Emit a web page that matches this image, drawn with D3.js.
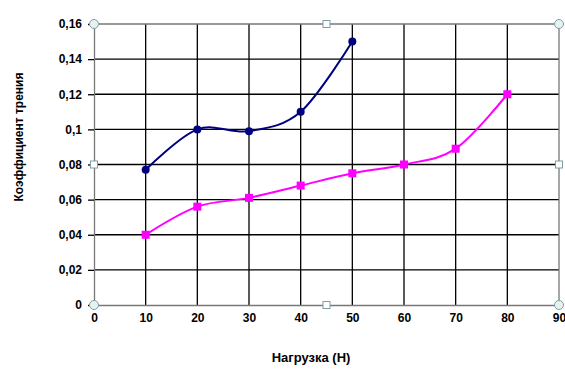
<!DOCTYPE html>
<html>
<head>
<meta charset="utf-8">
<script src="https://cdn.jsdelivr.net/npm/d3@7"></script>
<style>
  body { margin: 0; background: #fff; }
  text { font-family: "Liberation Sans", Arial, sans-serif; font-weight: bold; font-size: 12px; fill: #000; }
</style>
</head>
<body>
<script>
var xTicks = [0, 10, 20, 30, 40, 50, 60, 70, 80, 90];
var yTicks = [0, 0.02, 0.04, 0.06, 0.08, 0.1, 0.12, 0.14, 0.16];

var loadA = [10, 20, 30, 40, 50];
var frictionA = [0.077, 0.1, 0.099, 0.11, 0.15];

var loadB = [10, 20, 30, 40, 50, 60, 70, 80];
var frictionB = [0.04, 0.056, 0.061, 0.068, 0.075, 0.08, 0.089, 0.12];

var margin = {top: 24, right: 6, bottom: 84, left: 94},
    width = 565 - margin.left - margin.right,
    height = 389 - margin.top - margin.bottom;

var svg = d3.select("body").append("svg")
    .attr("width", 565)
    .attr("height", 389);

var g = svg.append("g")
    .attr("transform", "translate(" + margin.left + "," + margin.top + ")");

var x = d3.scaleLinear().domain([0, 90]).range([0, width]);
var y = d3.scaleLinear().domain([0, 0.16]).range([height, 0]);

var fmt = function(d) { return String(+d.toFixed(2)).replace(".", ","); };

// gridlines
g.append("g").selectAll("line").data(xTicks.slice(1, -1)).enter().append("line")
    .attr("x1", function(d) { return x(d); }).attr("x2", function(d) { return x(d); })
    .attr("y1", 0).attr("y2", height)
    .attr("stroke", "#000").attr("stroke-width", 1.3);
g.append("g").selectAll("line").data(yTicks.slice(1, -1)).enter().append("line")
    .attr("x1", 0).attr("x2", width)
    .attr("y1", function(d) { return y(d); }).attr("y2", function(d) { return y(d); })
    .attr("stroke", "#000").attr("stroke-width", 1.3);

// border (top/right)
g.append("path")
    .attr("d", "M0,0H" + width + "V" + height)
    .attr("fill", "none").attr("stroke", "#777").attr("stroke-width", 1.3);

// axes
var xAxis = g.append("g")
    .attr("transform", "translate(0," + height + ")")
    .call(d3.axisBottom(x).tickValues(xTicks).tickSize(0).tickPadding(8).tickFormat(d3.format("d")));
var yAxis = g.append("g")
    .call(d3.axisLeft(y).tickValues(yTicks).tickSize(6).tickPadding(6).tickFormat(fmt));
[xAxis, yAxis].forEach(function(a) {
  a.select(".domain").attr("stroke", "#777").attr("stroke-width", 1.3);
  a.selectAll(".tick line").attr("stroke", "#000").attr("stroke-width", 1.3);
  a.selectAll("text").style("font-size", "12px").attr("fill", "#000");
});

var line = d3.line()
    .x(function(d) { return x(d[0]); })
    .y(function(d) { return y(d[1]); })
    .curve(d3.curveCardinal);

var dataA = d3.zip(loadA, frictionA);
var dataB = d3.zip(loadB, frictionB);

g.append("path").datum(dataA).attr("d", line)
    .attr("fill", "none").attr("stroke", "#000080").attr("stroke-width", 2);
g.append("path").datum(dataB).attr("d", line)
    .attr("fill", "none").attr("stroke", "#ff00ff").attr("stroke-width", 2);

g.append("g").selectAll("circle").data(dataA).enter().append("circle")
    .attr("cx", function(d) { return x(d[0]); })
    .attr("cy", function(d) { return y(d[1]); })
    .attr("r", 4).attr("fill", "#000080");
g.append("g").selectAll("rect").data(dataB).enter().append("rect")
    .attr("x", function(d) { return x(d[0]) - 4; })
    .attr("y", function(d) { return y(d[1]) - 4; })
    .attr("width", 8).attr("height", 8).attr("fill", "#ff00ff");

// selection handles
var corners = [[0, 0], [width, 0], [0, height], [width, height]];
g.append("g").selectAll("circle").data(corners).enter().append("circle")
    .attr("cx", function(d) { return d[0]; }).attr("cy", function(d) { return d[1]; })
    .attr("r", 4.5).attr("fill", "#e6f2f2").attr("stroke", "#7f9ea6").attr("stroke-width", 1);
var mids = [[width / 2, 0], [width / 2, height], [0, height / 2], [width, height / 2]];
g.append("g").selectAll("rect").data(mids).enter().append("rect")
    .attr("x", function(d) { return d[0] - 3.5; }).attr("y", function(d) { return d[1] - 3.5; })
    .attr("width", 7).attr("height", 7)
    .attr("fill", "#fff").attr("stroke", "#7f9ea6").attr("stroke-width", 1);

// axis titles
svg.append("text")
    .attr("x", 311).attr("y", 362)
    .attr("text-anchor", "middle")
    .style("font-size", "13px")
    .text("Нагрузка (Н)");
svg.append("text")
    .attr("transform", "translate(23,137) rotate(-90)")
    .attr("text-anchor", "middle")
    .text("Коэффициент трения");
</script>
</body>
</html>
